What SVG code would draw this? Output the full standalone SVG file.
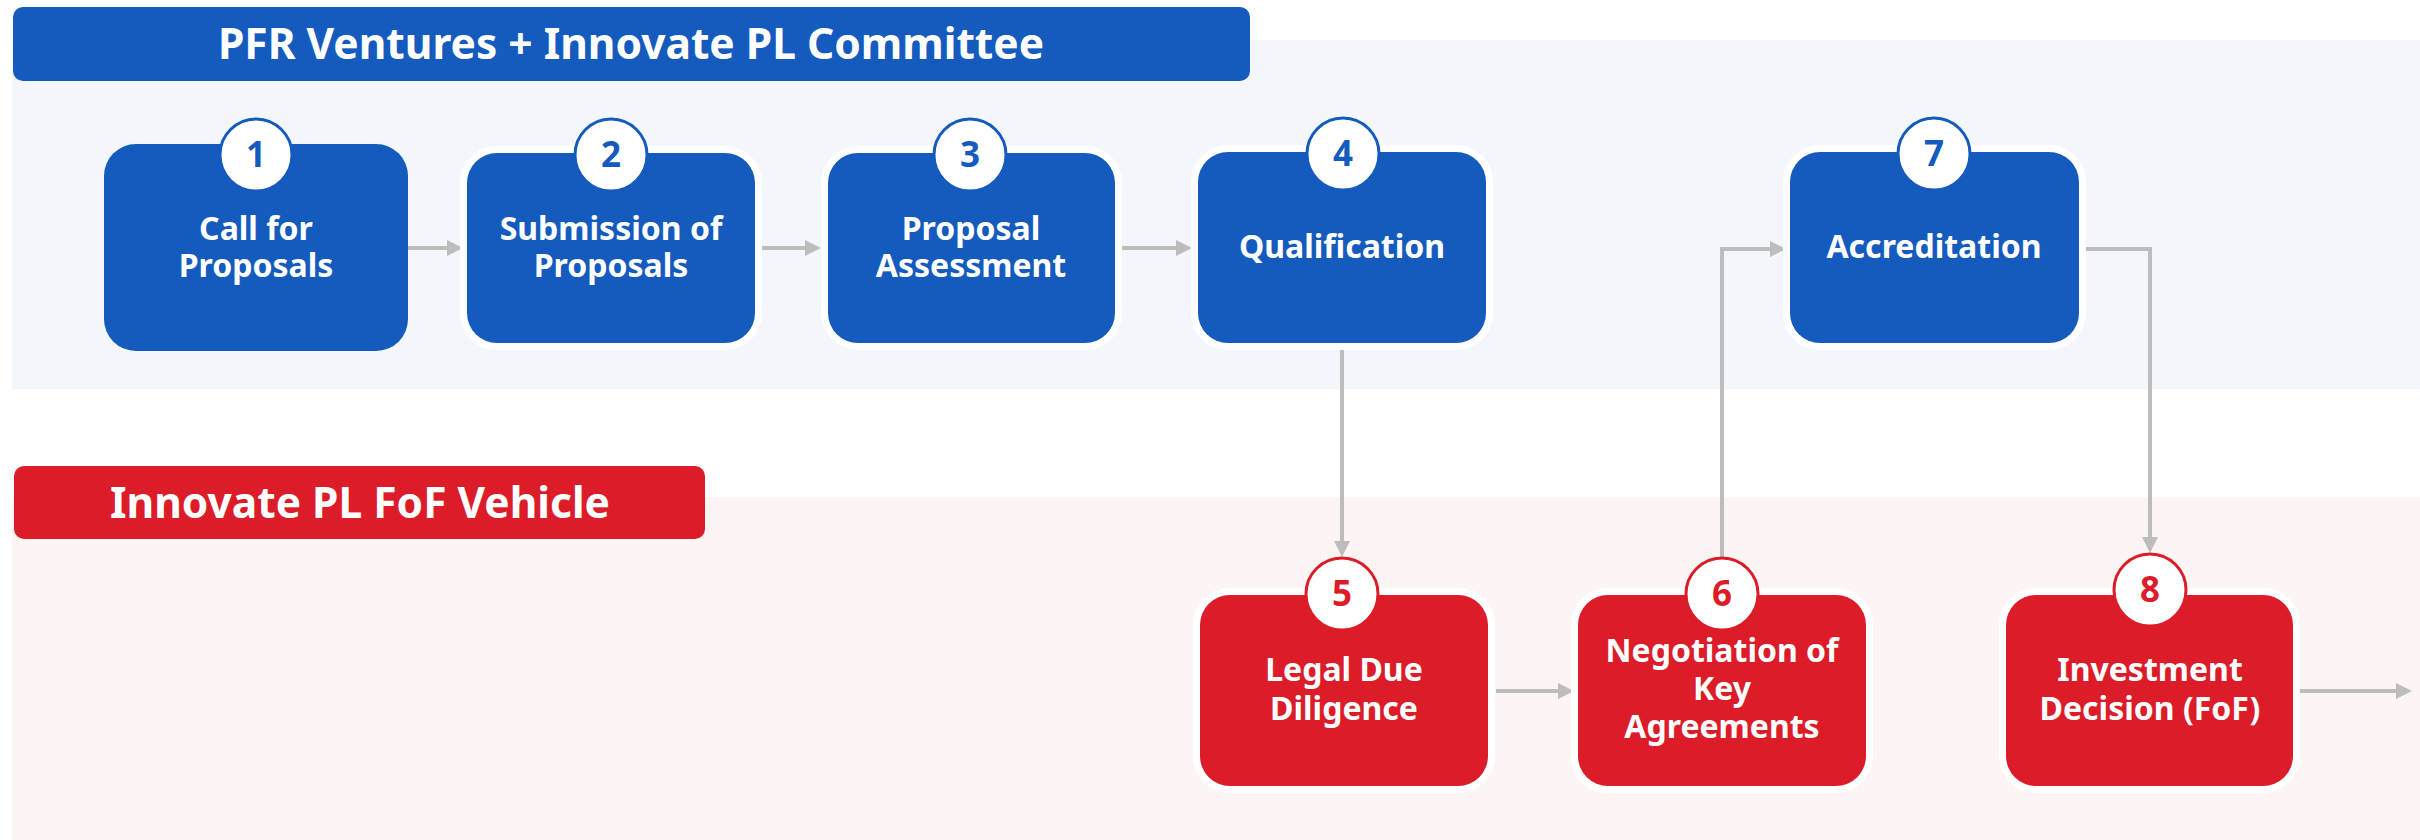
<svg xmlns="http://www.w3.org/2000/svg" width="2420" height="840" viewBox="0 0 2420 840">
<style>
text{font-family:"Noto Sans","Open Sans","DejaVu Sans",sans-serif;font-weight:700;text-anchor:middle}
.hd{font-size:42.5px;fill:#fff}
.lb{font-size:32px;fill:#fff}
.nb{font-size:35px}
.bl{fill:#155BBE}
.rd{fill:#DC1C28}
.nodeb{fill:#155BBE;stroke:#fff;stroke-width:14;paint-order:stroke}
.noder{fill:#DC1C28;stroke:#fff;stroke-width:14;paint-order:stroke}
.bdgb{fill:#fff;stroke:#155BBE;stroke-width:3}
.bdgr{fill:#fff;stroke:#DC1C28;stroke-width:3}
.cn{fill:none;stroke:#BDBDBD;stroke-width:4;marker-end:url(#ah)}
</style>
<defs>
<marker id="ah" markerUnits="userSpaceOnUse" markerWidth="16" markerHeight="16" refX="6" refY="8" orient="auto">
<path d="M0,0 L16,8 L0,16 z" fill="#BDBDBD"/>
</marker>
</defs>
<rect width="2420" height="840" fill="#fff"/>
<rect x="12" y="40" width="2408" height="349" fill="#F3F7FC"/>
<rect x="12" y="497" width="2408" height="343" fill="#FDF5F3"/>
<g id="lane-top">
<rect x="13" y="7" width="1237" height="74" rx="10" class="bl"/>
<text x="631" y="59" class="hd">PFR Ventures + Innovate PL Committee</text>
</g>
<g id="lane-bottom">
<rect x="14" y="466" width="691" height="73" rx="10" class="rd"/>
<text x="360" y="518" class="hd">Innovate PL FoF Vehicle</text>
</g>
<g id="connectors">
<path class="cn" d="M408 248 H453"/>
<path class="cn" d="M760 248 H811"/>
<path class="cn" d="M1120 248 H1182"/>
<path class="cn" d="M1342 347 V547"/>
<path class="cn" d="M1496 691 H1564"/>
<path class="cn" d="M1722 557 V249 H1776"/>
<path class="cn" d="M2084 249 H2150 V543"/>
<path class="cn" d="M2300 691 H2402"/>
</g>
<g id="node1">
<rect x="104" y="144" width="304" height="207" rx="32" class="bl"/>
<circle cx="256" cy="155" r="36" class="bdgb"/>
<text x="256" y="167" class="nb bl">1</text>
<text x="256" y="240" class="lb">Call for</text>
<text x="256" y="277" class="lb">Proposals</text>
</g>
<g id="node2">
<rect x="467" y="153" width="288" height="190" rx="30" class="nodeb"/>
<circle cx="611" cy="155" r="36" class="bdgb"/>
<text x="611" y="167" class="nb bl">2</text>
<text x="611" y="240" class="lb">Submission of</text>
<text x="611" y="277" class="lb">Proposals</text>
</g>
<g id="node3">
<rect x="828" y="153" width="287" height="190" rx="30" class="nodeb"/>
<circle cx="970" cy="155" r="36" class="bdgb"/>
<text x="970" y="167" class="nb bl">3</text>
<text x="971" y="240" class="lb">Proposal</text>
<text x="971" y="277" class="lb">Assessment</text>
</g>
<g id="node4">
<rect x="1198" y="152" width="288" height="191" rx="30" class="nodeb"/>
<circle cx="1343" cy="154" r="36" class="bdgb"/>
<text x="1343" y="166" class="nb bl">4</text>
<text x="1342" y="258" class="lb">Qualification</text>
</g>
<g id="node7">
<rect x="1790" y="152" width="289" height="191" rx="30" class="nodeb"/>
<circle cx="1934" cy="154" r="36" class="bdgb"/>
<text x="1934" y="166" class="nb bl">7</text>
<text x="1934" y="258" class="lb">Accreditation</text>
</g>
<g id="node5">
<rect x="1200" y="595" width="288" height="191" rx="30" class="noder"/>
<circle cx="1342" cy="594" r="36" class="bdgr"/>
<text x="1342" y="606" class="nb rd">5</text>
<text x="1344" y="681" class="lb">Legal Due</text>
<text x="1344" y="720" class="lb">Diligence</text>
</g>
<g id="node6">
<rect x="1578" y="595" width="288" height="191" rx="30" class="noder"/>
<circle cx="1722" cy="594" r="36" class="bdgr"/>
<text x="1722" y="606" class="nb rd">6</text>
<text x="1722" y="662" class="lb">Negotiation of</text>
<text x="1722" y="700" class="lb">Key</text>
<text x="1722" y="738" class="lb">Agreements</text>
</g>
<g id="node8">
<rect x="2006" y="595" width="287" height="191" rx="30" class="noder"/>
<circle cx="2150" cy="590" r="36" class="bdgr"/>
<text x="2150" y="602" class="nb rd">8</text>
<text x="2150" y="681" class="lb">Investment</text>
<text x="2150" y="720" class="lb">Decision (FoF)</text>
</g>
</svg>
